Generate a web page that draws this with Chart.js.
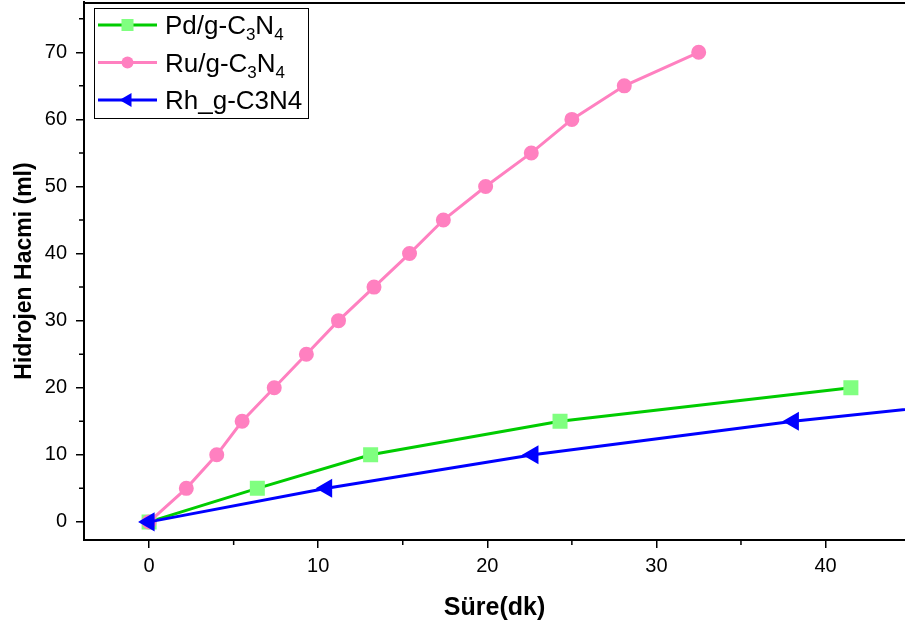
<!DOCTYPE html>
<html>
<head>
<meta charset="utf-8">
<script src="https://cdn.jsdelivr.net/npm/chart.js@4.4.1/dist/chart.umd.min.js"></script>
<style>
  html, body { margin: 0; padding: 0; background: #fff; }
  #wrap { width: 905px; height: 630px; position: relative; }
</style>
</head>
<body>
<div id="wrap"><canvas id="chart"></canvas></div>
<script>
// values
const seriesNames = ["Pd/g-C₃N₄", "Ru/g-C₃N₄", "Rh_g-C3N4"];

const timePd = [0, 6.4, 13.1, 24.3, 41.5];
const volPd = [0, 5, 10, 15, 20];

const timeRu = [0, 2.2, 4.0, 5.5, 7.4, 9.3, 11.2, 13.3, 15.4, 17.4, 19.9, 22.6, 25.0, 28.1, 32.5];
const volRu = [0, 5, 10, 15, 20, 25, 30, 35, 40, 45, 50, 55, 60, 65, 70];

const timeRh = [0, 10.5, 22.7, 38.1, 57];
const volRh = [0, 5, 10, 15, 20];

const xTicks = [0, 10, 20, 30, 40];
const yTicks = [0, 10, 20, 30, 40, 50, 60, 70];

const FONT = "Arial, 'Liberation Sans', sans-serif";
Chart.defaults.font.family = FONT;
Chart.defaults.color = "#000";

function pts(xs, ys) {
  return xs.map((x, i) => ({ x: x, y: ys[i] }));
}

// frame top line, minor ticks and the boxed legend
const originStyle = {
  id: "originStyle",
  afterDraw(chart) {
    const ctx = chart.ctx;
    const a = chart.chartArea;
    const xs = chart.scales.x, ys = chart.scales.y;
    ctx.save();
    ctx.strokeStyle = "#000";
    ctx.lineWidth = 2;
    ctx.beginPath();
    ctx.moveTo(a.left - 1, a.top + 1);
    ctx.lineTo(a.right, a.top + 1);
    ctx.stroke();

    ctx.lineWidth = 1.5;
    ctx.beginPath();
    for (let v = 5; v < xs.max; v += 10) {
      const px = xs.getPixelForValue(v);
      ctx.moveTo(px, a.bottom);
      ctx.lineTo(px, a.bottom + 5);
    }
    for (let v = 5; v < ys.max; v += 10) {
      const py = ys.getPixelForValue(v);
      ctx.moveTo(a.left, py);
      ctx.lineTo(a.left - 5, py);
    }
    ctx.stroke();

    // legend
    const bx = 94, by = 8, bw = 214, bh = 110;
    ctx.fillStyle = "#fff";
    ctx.fillRect(bx, by, bw, bh);
    ctx.lineWidth = 1;
    ctx.strokeStyle = "#000";
    ctx.strokeRect(bx + 0.5, by + 0.5, bw, bh);

    chart.data.datasets.forEach((ds, i) => {
      const cy = by + 17 + i * 37.5;
      ctx.strokeStyle = ds.borderColor;
      ctx.lineWidth = 3;
      ctx.beginPath();
      ctx.moveTo(98, cy);
      ctx.lineTo(157, cy);
      ctx.stroke();
      drawMarker(ctx, ds, 127.5, cy);

      // text with subscripts
      const subs = "₀₁₂₃₄₅₆₇₈₉";
      let tx = 165;
      ctx.fillStyle = "#000";
      ctx.textBaseline = "alphabetic";
      for (const ch of ds.label) {
        const k = subs.indexOf(ch);
        if (k >= 0) {
          ctx.font = "17px " + FONT;
          ctx.fillText(String(k), tx, cy + 15);
          tx += ctx.measureText(String(k)).width;
        } else {
          ctx.font = "26px " + FONT;
          ctx.fillText(ch, tx, cy + 9);
          tx += ctx.measureText(ch).width;
        }
      }
    });
    ctx.restore();
  }
};

function drawMarker(ctx, ds, x, y) {
  const r = ds.pointRadius;
  ctx.fillStyle = ds.pointBackgroundColor;
  ctx.beginPath();
  if (ds.pointStyle === "circle") {
    ctx.arc(x, y, r, 0, Math.PI * 2);
  } else if (ds.pointStyle === "rect") {
    const s = r * Math.SQRT1_2;
    ctx.rect(x - s, y - s, 2 * s, 2 * s);
  } else {
    ctx.moveTo(x - r, y);
    ctx.lineTo(x + r / 2, y - r * 0.866);
    ctx.lineTo(x + r / 2, y + r * 0.866);
    ctx.closePath();
  }
  ctx.fill();
}

new Chart(document.getElementById("chart"), {
  type: "line",
  data: {
    datasets: [
      {
        label: seriesNames[0],
        data: pts(timePd, volPd),
        borderColor: "#00cc00",
        pointBackgroundColor: "#80ff80",
        pointBorderColor: "#80ff80",
        pointStyle: "rect",
        pointRadius: 8.5,
        borderWidth: 3,
        order: 3
      },
      {
        label: seriesNames[1],
        data: pts(timeRu, volRu),
        borderColor: "#ff80c0",
        pointBackgroundColor: "#ff80c0",
        pointBorderColor: "#ff80c0",
        pointStyle: "circle",
        pointRadius: 6,
        borderWidth: 3,
        order: 2
      },
      {
        label: seriesNames[2],
        data: pts(timeRh, volRh),
        borderColor: "#0000ff",
        pointBackgroundColor: "#0000ff",
        pointBorderColor: "#0000ff",
        pointStyle: "triangle",
        pointRotation: -90,
        pointRadius: 8,
        borderWidth: 3,
        order: 1
      }
    ]
  },
  options: {
    responsive: true,
    maintainAspectRatio: false,
    animation: false,
    layout: { autoPadding: false, padding: { top: 2, right: 0, left: 0, bottom: 0 } },
    elements: { line: { tension: 0 }, point: { borderWidth: 0, hoverRadius: 8 } },
    plugins: {
      legend: { display: false },
      tooltip: { enabled: false }
    },
    scales: {
      x: {
        type: "linear",
        min: -3.85,
        max: 44.7,
        afterFit(s) { s.height = 90; s.paddingLeft = 0; s.paddingRight = 0; },
        afterBuildTicks(s) { s.ticks = xTicks.map(v => ({ value: v })); },
        border: { color: "#000", width: 2 },
        grid: { drawOnChartArea: false, drawTicks: true, tickLength: 8, tickColor: "#000", lineWidth: 1.5 },
        ticks: { font: { size: 20 }, padding: 6, maxRotation: 0 },
        title: { display: true, text: "Süre(dk)", font: { size: 25, weight: "bold" }, padding: { top: 0, bottom: 7 } }
      },
      y: {
        type: "linear",
        min: -2.7,
        max: 77.5,
        afterFit(s) { s.width = 84; s.paddingTop = 0; s.paddingBottom = 0; },
        afterBuildTicks(s) { s.ticks = yTicks.map(v => ({ value: v })); },
        border: { color: "#000", width: 2 },
        grid: { drawOnChartArea: false, drawTicks: true, tickLength: 8, tickColor: "#000", lineWidth: 1.5 },
        ticks: { font: { size: 20 }, padding: 9 },
        title: { display: true, text: "Hidrojen Hacmi (ml)", font: { size: 23, weight: "bold" }, padding: { top: 11, bottom: 0 } }
      }
    }
  },
  plugins: [originStyle]
});
</script>
</body>
</html>
